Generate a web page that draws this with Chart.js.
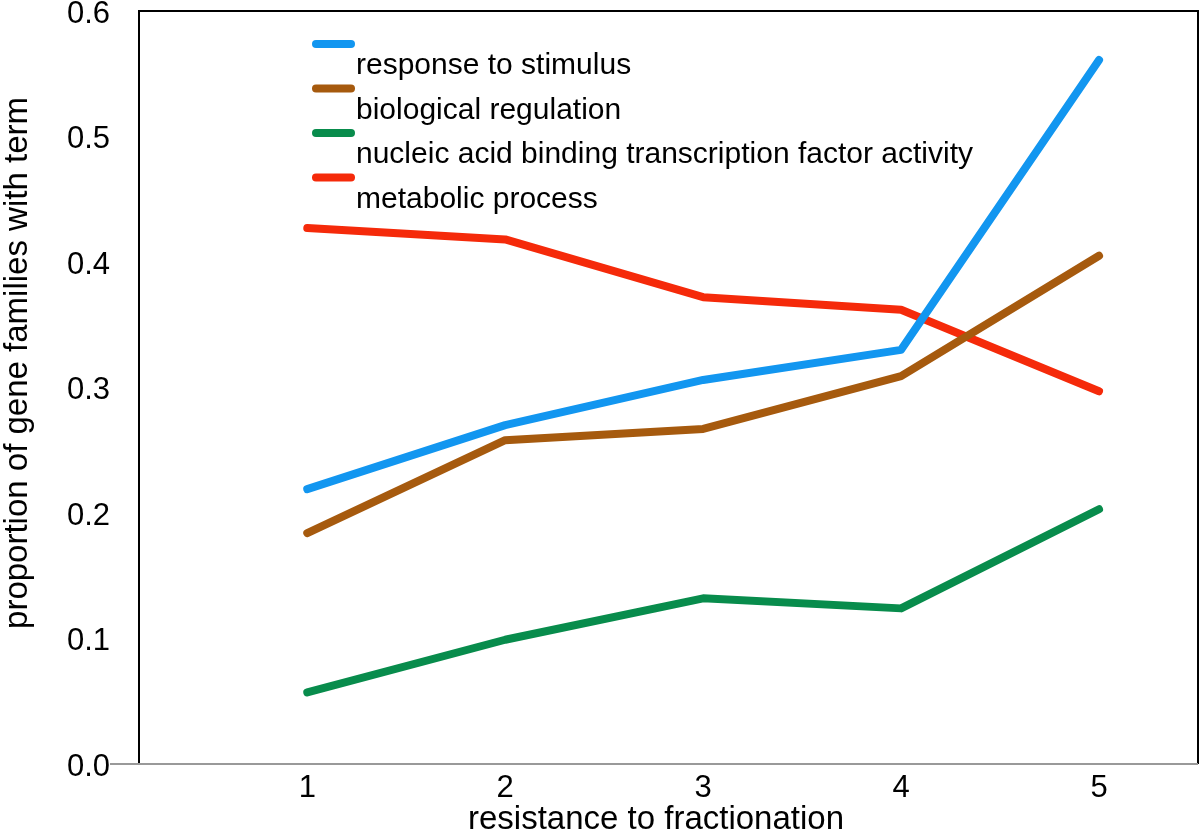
<!DOCTYPE html>
<html>
<head>
<meta charset="utf-8">
<script src="https://cdn.jsdelivr.net/npm/chart.js@4/dist/chart.umd.min.js"></script>
<style>
  html, body { margin: 0; padding: 0; background: #fff; }
  #wrap { width: 1200px; height: 831px; }
</style>
</head>
<body>
<div id="wrap"><canvas id="chart" width="1200" height="831"></canvas></div>
<script>
'use strict';

// data
const resistance = [1, 2, 3, 4, 5];
const responseToStimulus = [0.219, 0.270, 0.306, 0.330, 0.561];
const biologicalRegulation = [0.184, 0.258, 0.267, 0.309, 0.405];
const nucleicAcidBinding = [0.057, 0.099, 0.132, 0.124, 0.203];
const metabolicProcess = [0.427, 0.418, 0.372, 0.362, 0.297];
const yTicks = [0, 0.1, 0.2, 0.3, 0.4, 0.5, 0.6];
const yTitle = 'proportion of gene families with term';
const xTitle = 'resistance to fractionation';

const font = '"Liberation Sans", Arial, sans-serif';

function toPoints(values) {
  return resistance.map((x, i) => ({ x: x, y: values[i] }));
}

function makeSet(label, values, color) {
  return {
    label: label,
    data: toPoints(values),
    borderColor: color,
    backgroundColor: color,
    borderWidth: 8,
    borderCapStyle: 'round',
    borderJoinStyle: 'round',
    pointRadius: 0,
    tension: 0,
  };
}

// frame, axis titles and the legend (line above, text below)
const framePlugin = {
  id: 'frame',
  afterDatasetsDraw(chart) {
    const ctx = chart.ctx;
    const a = chart.chartArea;
    ctx.save();
    ctx.lineWidth = 2;
    ctx.strokeStyle = '#000';
    ctx.beginPath();
    ctx.moveTo(a.left, a.bottom);
    ctx.lineTo(a.left, a.top);
    ctx.lineTo(a.right, a.top);
    ctx.lineTo(a.right, a.bottom);
    ctx.stroke();
    ctx.strokeStyle = '#999';
    ctx.beginPath();
    ctx.moveTo(a.left - 29, a.bottom);
    ctx.lineTo(a.right, a.bottom);
    ctx.stroke();

    ctx.font = '33px ' + font;
    ctx.fillStyle = '#000';
    ctx.textAlign = 'center';
    ctx.textBaseline = 'alphabetic';
    ctx.fillText(xTitle, 656, 829);

    // y title, a bit above centre as in the original
    ctx.save();
    ctx.translate(27, 363);
    ctx.rotate(-Math.PI / 2);
    ctx.fillText(yTitle, 0, 0);
    ctx.restore();

    // legend
    const x0 = 316, y0 = 44, step = 44.5;
    ctx.font = '30px ' + font;
    ctx.textAlign = 'left';
    chart.data.datasets.forEach((ds, i) => {
      const y = y0 + i * step;
      ctx.strokeStyle = ds.borderColor;
      ctx.lineWidth = 8;
      ctx.lineCap = 'round';
      ctx.beginPath();
      ctx.moveTo(x0, y);
      ctx.lineTo(x0 + 35, y);
      ctx.stroke();
      ctx.fillStyle = '#000';
      ctx.fillText(ds.label, 356, y + 30);
    });
    ctx.restore();
  }
};

const config = {
  type: 'line',
  data: {
    datasets: [
      makeSet('response to stimulus', responseToStimulus, 'rgb(18,150,240)'),
      makeSet('biological regulation', biologicalRegulation, 'rgb(166,90,14)'),
      makeSet('nucleic acid binding transcription factor activity', nucleicAcidBinding, 'rgb(8,140,76)'),
      makeSet('metabolic process', metabolicProcess, 'rgb(245,42,10)'),
    ]
  },
  options: {
    responsive: false,
    animation: false,
    layout: { padding: { left: 0, top: 11, right: 2, bottom: 0 } },
    plugins: {
      legend: { display: false },
      tooltip: { enabled: false },
    },
    scales: {
      x: {
        type: 'linear',
        min: 0.15,
        max: 5.5,
        afterBuildTicks(scale) {
          scale.ticks = resistance.map(v => ({ value: v }));
        },
        afterFit(scale) {
          scale.height = 67;
          scale.paddingLeft = 0;
          scale.paddingRight = 0;
        },
        grid: { display: false, drawTicks: false },
        border: { display: false },
        ticks: {
          padding: 6,
          color: '#000',
          font: { family: font, size: 31 },
          callback: v => String(v),
        },
      },
      y: {
        min: 0,
        max: 0.6,
        afterBuildTicks(scale) {
          scale.ticks = yTicks.map(v => ({ value: v }));
        },
        afterFit(scale) {
          scale.width = 139;
          scale.paddingTop = 0;
          scale.paddingBottom = 0;
        },
        grid: { display: false, drawTicks: false },
        border: { display: false },
        ticks: {
          padding: 29,
          labelOffset: 3,
          color: '#000',
          font: { family: font, size: 31 },
          callback: v => Number(v).toFixed(1),
        },
      },
    },
  },
  plugins: [framePlugin],
};

new Chart(document.getElementById('chart'), config);
</script>
</body>
</html>
